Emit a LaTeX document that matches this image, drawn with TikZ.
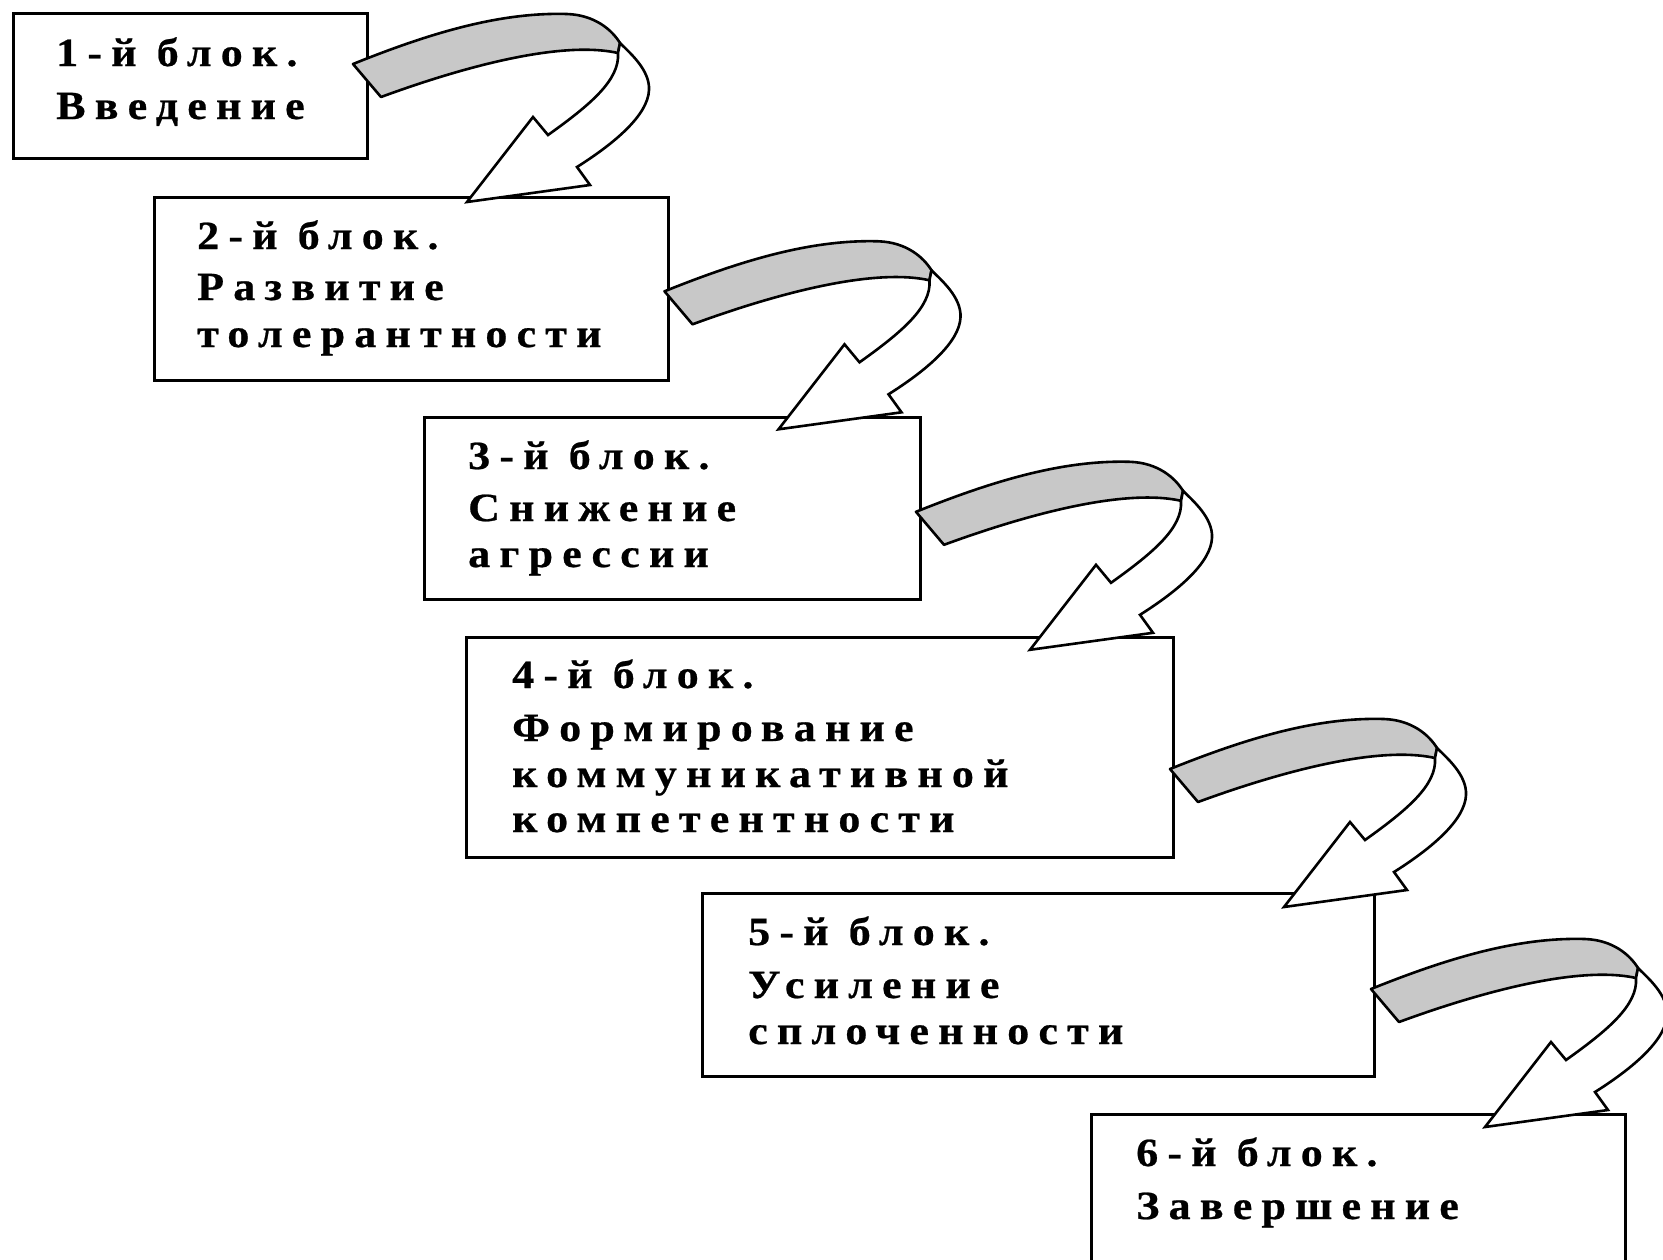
\documentclass[tikz,border=0pt]{standalone}
\usepackage{fontspec}
\newfontfamily\blockfont{Liberation Serif}[LetterSpace=23, FakeStretch=1.1, FakeBold=0.6]
\definecolor{bandgray}{RGB}{200,200,200}
\tikzset{
  blockbox/.style={draw, line width=3pt, fill=white, anchor=north west, inner sep=0pt},
  blocktext/.style={anchor=base west, inner sep=0pt, font=\blockfont\bfseries\fontsize{40}{46}\selectfont},
  bandpart/.style={draw, fill=bandgray, line width=2.6pt, line join=round},
  headpart/.style={draw, fill=white, line width=2.6pt, line join=miter},
}
\newcommand{\curlarrow}[2]{%
  \begin{scope}[shift={(#1,#2)}]
    \path[bandpart] (0,0) .. controls (77,-31) and (147,-52) .. (214,-50)
      .. controls (242,-49) and (259,-34) .. (267,-21) -- (265,-11)
      .. controls (207,-24) and (107,4) .. (28,33) -- cycle;
    \path[headpart] (265,-11) .. controls (267,16) and (237,41) .. (195,71)
      -- (180,53) -- (114,138) -- (237,121) -- (224,103)
      .. controls (262,79) and (295,51) .. (296,26)
      .. controls (297,6) and (277,-11) .. (267,-21) -- cycle;
  \end{scope}}
\begin{document}
\begin{tikzpicture}[x=1pt,y=-1pt]
\useasboundingbox (0,0) rectangle (1663,1259);
\fill[white] (0,0) rectangle (1663,1259);
\clip (0,0) rectangle (1663,1259);
% boxes
\node[blockbox, minimum width=354pt, minimum height=145pt] (b1) at (12,12) {};
\node[blockbox, minimum width=514pt, minimum height=183pt] (b2) at (153,196) {};
\node[blockbox, minimum width=496pt, minimum height=182pt] (b3) at (423,416) {};
\node[blockbox, minimum width=707pt, minimum height=220pt] (b4) at (465,636) {};
\node[blockbox, minimum width=672pt, minimum height=183pt] (b5) at (701,892) {};
\node[blockbox, minimum width=534pt, minimum height=170pt] (b6) at (1090,1113) {};
% texts
\node[blocktext] (t1a) at (56,66) {1-й блок.};
\node[blocktext] (t1b) at (56,119) {Введение};
\node[blocktext] (t2a) at (197,249) {2-й блок.};
\node[blocktext] (t2b) at (197,300) {Развитие};
\node[blocktext] (t2c) at (197,347) {толерантности};
\node[blocktext] (t3a) at (468,469) {3-й блок.};
\node[blocktext] (t3b) at (468,521) {Снижение};
\node[blocktext] (t3c) at (468,567) {агрессии};
\node[blocktext] (t4a) at (512,688) {4-й блок.};
\node[blocktext] (t4b) at (512,741) {Формирование};
\node[blocktext] (t4c) at (512,787) {коммуникативной};
\node[blocktext] (t4d) at (512,832) {компетентности};
\node[blocktext] (t5a) at (748,945) {5-й блок.};
\node[blocktext] (t5b) at (748,998) {Усиление};
\node[blocktext] (t5c) at (748,1044) {сплоченности};
\node[blocktext] (t6a) at (1136,1166) {6-й блок.};
\node[blocktext] (t6b) at (1136,1219) {Завершение};
% curled arrows
\curlarrow{353}{64}
\curlarrow{664.5}{291.3}
\curlarrow{916}{511.8}
\curlarrow{1170}{769}
\curlarrow{1371}{989}
\end{tikzpicture}
\end{document}
